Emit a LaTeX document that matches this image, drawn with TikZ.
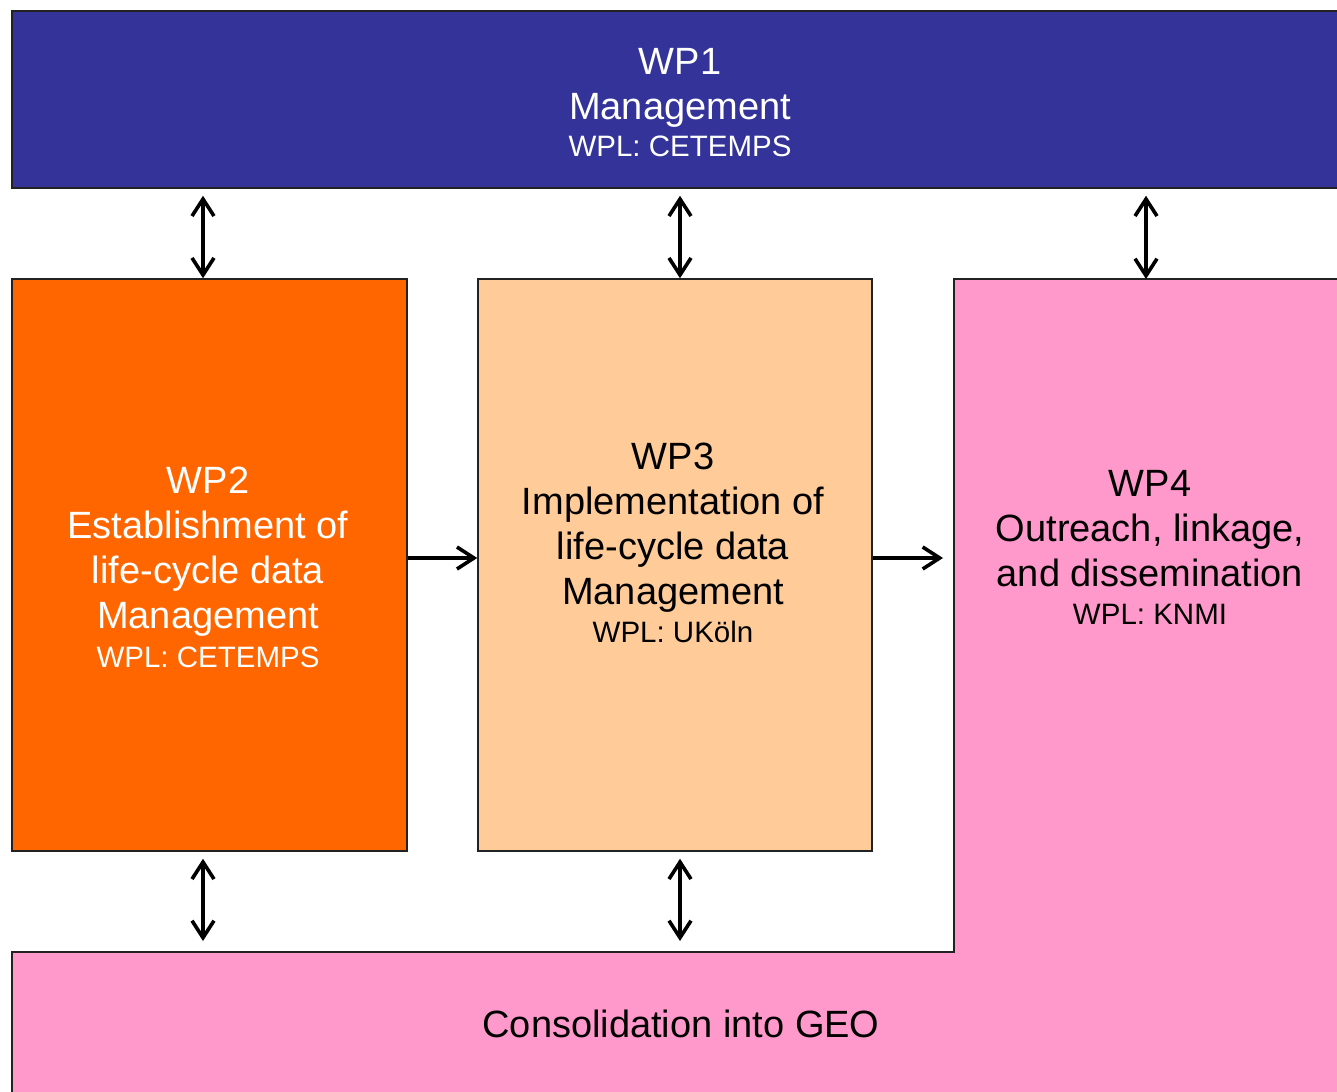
\documentclass[tikz,border=0pt]{standalone}
\usepackage{fontspec}
\setmainfont{Liberation Sans}
\usetikzlibrary{arrows.meta,calc}

\definecolor{wpblue}{HTML}{333399}
\definecolor{wporange}{HTML}{FF6600}
\definecolor{wppeach}{HTML}{FFCC99}
\definecolor{wppink}{HTML}{FF99CC}
\definecolor{wpedge}{HTML}{222222}

\newcommand\wpbig{\fontsize{38}{45}\selectfont}
\newcommand\wpsmall{\fontsize{29.5}{32}\selectfont}

\tikzset{
  wpbox/.style={draw=wpedge, line width=1.5pt, inner sep=0pt, rectangle},
  wptext/.style={align=center, inner sep=0pt, font=\wpbig},
  barb/.tip={Straight Barb[length=17pt,width=22pt,line width=3.6pt]},
  link/.style={line width=3.4pt, -barb},
  duplex/.style={line width=3.4pt, barb-barb}
}

\begin{document}
\begin{tikzpicture}[x=1pt,y=-1pt]
\useasboundingbox (0,0) rectangle (1337,1091);
\clip (0,0) rectangle (1337,1091);

% WP4 / consolidation: one L-shaped region running off the right and bottom
\path[fill=wppink, draw=wpedge, line width=1.5pt]
  (12,1110) -- (12,952) -- (954,952) -- (954,279) -- (1360,279) -- (1360,1110) -- cycle;
\coordinate (wp4top) at (1146,279);
\coordinate (wp4west) at (954,558);
\coordinate (geotopA) at (203,952);
\coordinate (geotopB) at (680,952);

% work package boxes
\node[wpbox, fill=wpblue, minimum width=1350pt, minimum height=177pt] (wp1) at (687,99.5) {};
\node[wpbox, fill=wporange, minimum width=395pt, minimum height=572pt] (wp2) at (209.5,565) {};
\node[wpbox, fill=wppeach, minimum width=394pt, minimum height=572pt] (wp3) at (675,565) {};

% labels
\node[wptext, text=white] (wp1t) at (680,103) {WP1\\Management\\[-8pt]{\wpsmall WPL: CETEMPS}};
\node[wptext, text=white] (wp2t) at (208,567) {WP2\\Establishment of\\life-cycle data\\Management\\[-6pt]{\wpsmall WPL: CETEMPS}};
\node[wptext] (wp3t) at (673,543) {WP3\\Implementation of\\life-cycle data\\Management\\[-7pt]{\wpsmall WPL: UKöln}};
\node[wptext] (wp4t) at (1150,547) {WP4\\Outreach, linkage,\\and dissemination\\[-7pt]{\wpsmall WPL: KNMI}};
\node[wptext] (geo) at (681,1024) {Consolidation into GEO};

% connectors
\draw[duplex] ([xshift=-6.5pt,yshift=-7pt]wp1.south -| wp2.north) -- ([xshift=-6.5pt]wp2.north);
\draw[duplex] ([xshift=5pt,yshift=-7pt]wp1.south -| wp3.north) -- ([xshift=5pt]wp3.north);
\draw[duplex] ([yshift=-7pt]wp1.south -| wp4top) -- (wp4top);
\draw[link] (wp2.east |- wp4west) -- (wp3.west |- wp4west);
\draw[link, shorten >=11pt] (wp3.east |- wp4west) -- (wp4west);
\draw[duplex] ([xshift=-6.5pt,yshift=-7pt]wp2.south) -- ([yshift=11pt]geotopA);
\draw[duplex] ([xshift=5pt,yshift=-7pt]wp3.south) -- ([yshift=11pt]geotopB);
\end{tikzpicture}
\end{document}
